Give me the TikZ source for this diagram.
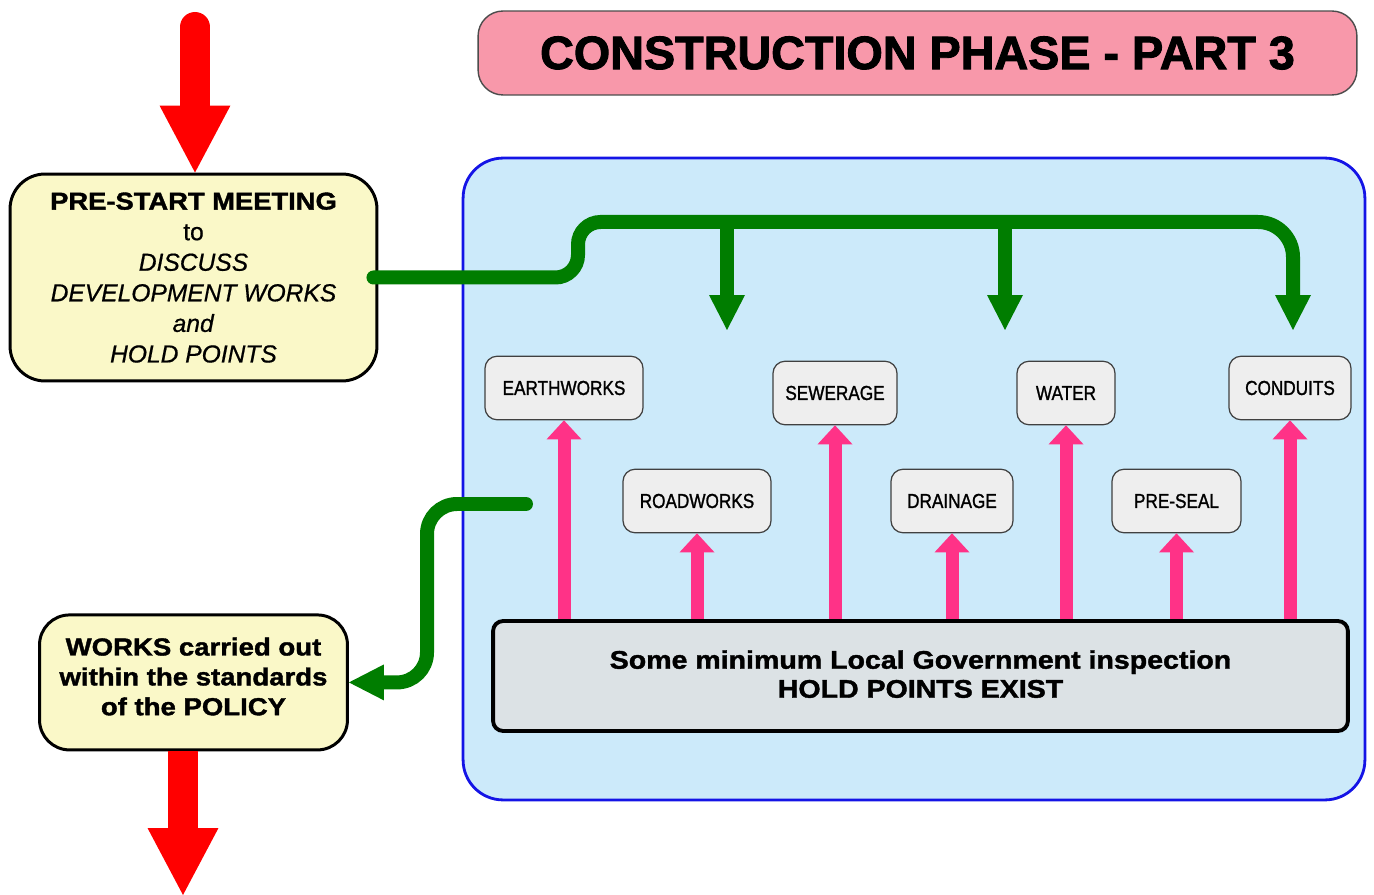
\documentclass[tikz,border=0pt]{standalone}
\usepackage{fontspec}
\setmainfont{Liberation Sans}
\newfontfamily\heavyfont[FakeStretch=1.12,FakeBold=1.5]{Liberation Sans}
\newfontfamily\notefont[FakeBold=0.6]{Liberation Sans}
\newfontfamily\titlefont[FakeBold=2]{Liberation Sans}
\newfontfamily\narrowfont[FakeStretch=0.85,FakeBold=1.2]{Liberation Sans}
\usetikzlibrary{arrows.meta}

\definecolor{panelblue}{RGB}{204,234,250}
\definecolor{panelline}{RGB}{20,20,230}
\definecolor{titlepink}{RGB}{248,152,170}
\definecolor{notepaper}{RGB}{250,248,200}
\definecolor{holdgrey}{RGB}{220,226,229}
\definecolor{catgrey}{RGB}{238,238,238}
\definecolor{flowgreen}{RGB}{0,125,0}
\definecolor{checkpink}{RGB}{255,50,135}

\begin{document}
\begin{tikzpicture}[x=0.02cm, y=-0.02cm]
    % Styles
    \tikzstyle{banner} = [rectangle, draw=black!70, line width=0.8pt, fill=titlepink, rounded corners=0.5cm, minimum width=17.58cm, minimum height=1.68cm, font=\titlefont\bfseries\fontsize{26.6}{30}\selectfont]
    \tikzstyle{panel} = [rectangle, draw=panelline, line width=1.6pt, fill=panelblue, rounded corners=0.8cm, minimum width=18.04cm, minimum height=12.84cm]
    \tikzstyle{stage} = [rectangle, draw, line width=1.7pt, fill=notepaper, align=center, font=\notefont\fontsize{14}{17.4}\selectfont]
    \tikzstyle{trade} = [rectangle, draw=black!75, line width=0.7pt, fill=catgrey, rounded corners=0.24cm, minimum height=1.27cm, font=\narrowfont\fontsize{11.5}{13}\selectfont]
    \tikzstyle{holdbar} = [rectangle, draw, line width=2.2pt, fill=holdgrey, rounded corners=0.2cm, minimum width=17.1cm, minimum height=2.2cm, align=center, text depth=2.3pt, font=\heavyfont\bfseries\fontsize{14.5}{16.5}\selectfont]
    \tikzstyle{flow} = [draw=flowgreen, line width=0.28cm, -{Triangle[width=0.72cm, length=0.7cm, line width=0pt]}]
    \tikzstyle{check} = [draw=checkpink, line width=0.26cm, -{Triangle[width=0.7cm, length=0.38cm, line width=0pt]}]
    \tikzstyle{bigarrow} = [draw=red, line width=0.6cm, -{Triangle[width=1.42cm, length=1.34cm, line width=0pt]}]

    \useasboundingbox (0,0) rectangle (1374,895);

    % Nodes
    \node [banner] (banner) at (917.5,53) {CONSTRUCTION PHASE - PART 3};
    \node [panel] (panel) at (914,479) {};
    \node [stage, rounded corners=0.7cm, minimum width=7.34cm, minimum height=4.14cm, text depth=-4.5pt] (prestart) at (193.5,277.5) {{\heavyfont\bfseries\fontsize{13.9}{17.4}\selectfont PRE-START MEETING}\\to\\\textit{DISCUSS}\\\textit{DEVELOPMENT WORKS}\\\textit{and}\\\textit{HOLD POINTS}};
    \node [stage, rounded corners=0.6cm, minimum width=6.16cm, minimum height=2.7cm, text depth=6.8pt, font=\heavyfont\bfseries\fontsize{14}{17}\selectfont, below of=prestart, node distance=8.1cm] (works) {WORKS carried out\\within the standards\\of the POLICY};
    \node [holdbar] (hold) at (920.5,676) {Some minimum Local Government inspection\\HOLD POINTS EXIST};

    \node [trade, minimum width=3.16cm] (earth) at (564,388) {EARTHWORKS};
    \node [trade, minimum width=2.96cm] (road) at (697,501) {ROADWORKS};
    \node [trade, minimum width=2.48cm] (sewer) at (835,393) {SEWERAGE};
    \node [trade, minimum width=2.44cm] (drain) at (952,501) {DRAINAGE};
    \node [trade, minimum width=1.96cm] (water) at (1066,393) {WATER};
    \node [trade, minimum width=2.58cm] (preseal) at (1176.5,501) {PRE-SEAL};
    \node [trade, minimum width=2.44cm] (conduits) at (1290,388) {CONDUITS};

    % Arrows
    \coordinate (entry) at (195,27);
    \coordinate (exit) at (183,895);
    \draw [bigarrow, line cap=round] (entry) -- (entry |- prestart.north);
    \draw [bigarrow] (exit |- works.south) -- (exit);

    \coordinate (bus) at (600,222);
    \coordinate (drop1) at (727,330);
    \coordinate (drop2) at (1005,330);
    \coordinate (drop3) at (1293,330);
    \draw [flow, line cap=round] ([xshift=-0.1cm]prestart.east) [rounded corners=0.45cm] -- (578,277.5) -- (578,222) [rounded corners=0.7cm] -- (drop3 |- bus) -- (drop3);
    \draw [flow] (drop1 |- bus) -- (drop1);
    \draw [flow] (drop2 |- bus) -- (drop2);

    \coordinate (back) at (526,504);
    \draw [flow, line cap=round, rounded corners=0.6cm] (back) -- (427,504) |- (works.east);

    \foreach \t in {earth, road, sewer, drain, water, preseal, conduits}
        \draw [check] (\t.south |- hold.north) -- (\t.south);
\end{tikzpicture}
\end{document}
